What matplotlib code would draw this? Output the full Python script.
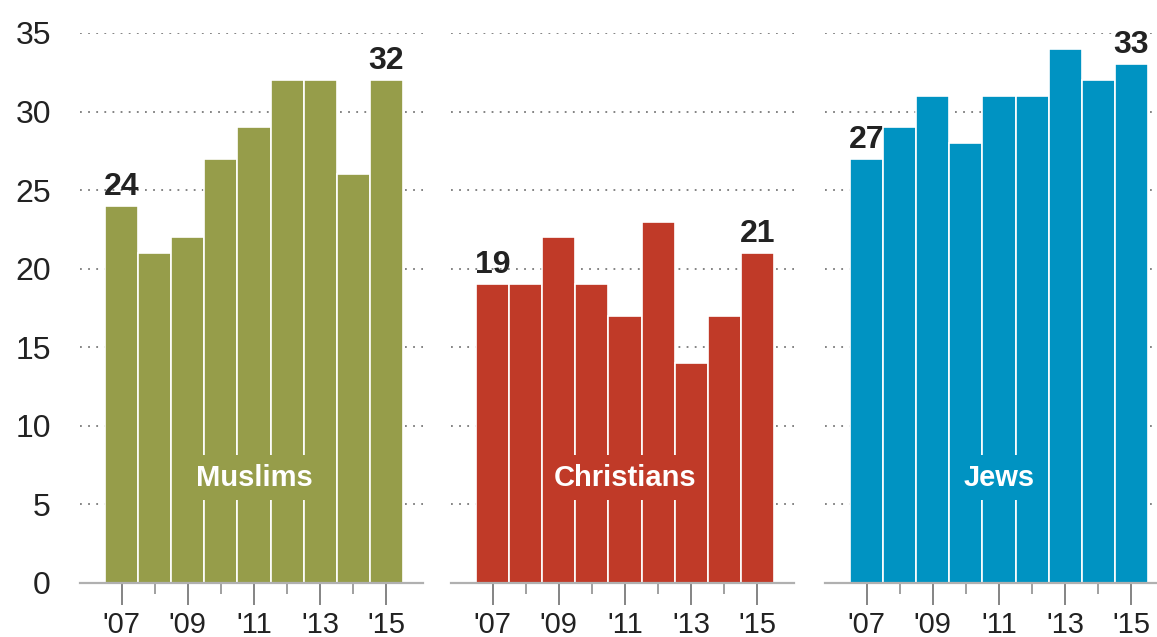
import matplotlib
matplotlib.use("Agg")
import matplotlib.pyplot as plt
import numpy as np

years = ["'07", "'08", "'09", "'10", "'11", "'12", "'13", "'14", "'15"]
groups = ["Muslims", "Christians", "Jews"]
muslims = [24, 21, 22, 27, 29, 32, 32, 26, 32]
christians = [19, 19, 22, 19, 17, 23, 14, 17, 21]
jews = [27, 29, 31, 28, 31, 31, 34, 32, 33]
series = [muslims, christians, jews]
colors = ["#969D4A", "#C03A28", "#0093C2"]
yticks = [0, 5, 10, 15, 20, 25, 30, 35]

plt.rcParams['font.family'] = ['Liberation Sans', 'DejaVu Sans']

W, H = 1157, 637
fig = plt.figure(figsize=(W / 100, H / 100), dpi=100)

unit = 298 / 9.0
xlim = (-1.25, 9.1)
ax_w = (xlim[1] - xlim[0]) * unit
bar_lefts = [105, 476, 850]
y_bot, y_top = 583, 33

for i, (vals, name, col) in enumerate(zip(series, groups, colors)):
    left_px = bar_lefts[i] - (-0.5 - xlim[0]) * unit
    ax = fig.add_axes([left_px / W, 1 - y_bot / H, ax_w / W, (y_bot - y_top) / H])
    x = np.arange(len(vals))
    ax.bar(x, vals, width=1.0, color=col, edgecolor='white', linewidth=1.2, zorder=2)
    ax.set_xlim(*xlim)
    ax.set_ylim(0, 35)
    for s in ax.spines.values():
        s.set_visible(False)
    # grid
    for yv in yticks[1:]:
        ax.axhline(yv, color='#7a7a7a', linewidth=1.3, linestyle=(0, (1, 3.5)), zorder=1)
    ax.axhline(0, xmax=(8.6 - xlim[0]) / (xlim[1] - xlim[0]) + 0.05, color='#b0b0b0', linewidth=1.6, zorder=3, clip_on=False)
    # x ticks
    ax.set_xticks(x[::2])
    ax.set_xticklabels(years[::2])
    ax.set_xticks(x[1::2], minor=True)
    ax.tick_params(axis='x', which='major', length=16, width=1.2, color='#707070',
                   labelsize=21, labelcolor='#222222', pad=4)
    ax.tick_params(axis='x', which='minor', length=8, width=1.2, color='#909090')
    # y ticks
    ax.set_yticks(yticks)
    if i == 0:
        ax.set_yticklabels([str(v) for v in yticks])
        ax.tick_params(axis='y', length=0, labelsize=23, labelcolor='#222222', pad=21)
    else:
        ax.tick_params(axis='y', length=0, labelleft=False)
    # value labels first and last
    for j in (0, len(vals) - 1):
        ax.annotate(str(vals[j]), (x[j], vals[j]), xytext=(0, 3), textcoords='offset points',
                    ha='center', va='bottom', fontsize=23, fontweight='bold', color='#222222',
                    zorder=5, annotation_clip=False)
    # category label
    ax.text(4, 6.7, name, ha='center', va='center', fontsize=21, fontweight='bold',
            color='white', zorder=5,
            bbox=dict(boxstyle='square,pad=0.3', fc=col, ec='none'))

fig.savefig("out.png", dpi=100)
